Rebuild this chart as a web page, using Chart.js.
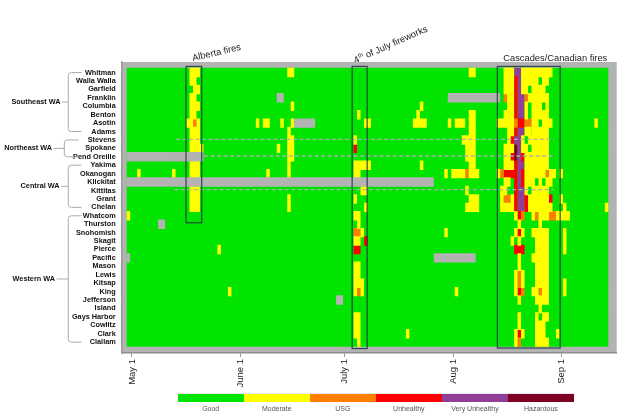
<!DOCTYPE html>
<html>
<head>
<meta charset="utf-8">
<script src="https://cdn.jsdelivr.net/npm/chart.js@4.4.1/dist/chart.umd.min.js"></script>
<style>
  html, body { margin: 0; padding: 0; background: #fff; }
  #wrap { position: relative; width: 639px; height: 418px; }
  #legend { position: absolute; left: 177.7px; top: 393.3px; display: flex;
            font-family: "Liberation Sans", Arial, sans-serif; }
  #legend .item { width: 66.05px; text-align: center; font-size: 7px; color: #555; }
  #legend .swatch { height: 8.7px; box-shadow: inset 0 1px 0 #e6e6e6; }
  #legend .lbl { margin-top: 2px; line-height: 9px; }
</style>
</head>
<body>
<div id="wrap">
  <canvas id="aqiChart" width="639" height="418"></canvas>
  <div id="legend"></div>
</div>
<script>
// --- DATA ---
// day 0 = Apr 30, one column per day through Sep 14
const dayCount = 138;
const tickDays = [1, 32, 62, 93, 124];
const tickLabels = ['May 1', 'June 1', 'July 1', 'Aug 1', 'Sep 1'];

const counties = ['Whitman', 'Walla Walla', 'Garfield', 'Franklin', 'Columbia', 'Benton', 'Asotin', 'Adams',
  'Stevens', 'Spokane', 'Pend Oreille',
  'Yakima', 'Okanogan', 'Klickitat', 'Kittitas', 'Grant', 'Chelan',
  'Whatcom', 'Thurston', 'Snohomish', 'Skagit', 'Pierce', 'Pacific', 'Mason', 'Lewis', 'Kitsap', 'King',
  'Jefferson', 'Island', 'Gays Harbor', 'Cowlitz', 'Clark', 'Clallam'];

const regionNames = ['Southeast WA', 'Northeast WA', 'Central WA', 'Western WA'];
const regionFirst = [0, 8, 11, 17];
const regionLast = [7, 10, 16, 32];

const levels = ['Good', 'Moderate', 'USG', 'Unhealthy', 'Very Unhealthy', 'Hazardous'];
const levelCodes = ['G', 'M', 'U', 'R', 'V', 'H'];
const levelColors = ['#00e400', '#ffff00', '#ff7e00', '#ff0000', '#8f3f97', '#7e0023'];
const MISSING_COLOR = '#b3b3b3';

// days that were not "Good": first-last day + code (N = no data)
const readings = [
  '18-20M 46-47M 98-99M 108-110M 111-112V 113-121M',
  '18-19M 108-110M 111R 112V 113-117M 119-120M',
  '19-20M 108-110M 111R 112V 113-114M 116-119M',
  '18-19M 43-44N 92-106N 108U 109-110M 111R 112-113V 114U 115-120M',
  '18-20M 47M 84M 109-110M 111R 112-113V 114M 116-118M 120M',
  '18-19M 66M 83M 98-99M 108-110M 111R 112-113V 114M 116-120M',
  '17-18M 19U 20M 37M 39-40M 44M 47M 48-53N 68-69M 82-85M 92M 94-96M 98-99M 106-110M 111U 112-113R 114-115U 116-117M 119-121M 134M',
  '18-20M 46M 98-99M 109-110M 111R 112-113V 114-115M 116-120M',
  '18-20M 46-47M 65M 96-99M 109M 110R 111-112V 113M 115-120M',
  '18-21M 43M 46-47M 65R 97-99M 108-110M 111H 112V 113-114M 116-120M',
  '0-21N 46-47M 97-99M 108-109M 110R 111H 112V 113R 114M 115-120M',
  '18-20M 46M 65-69M 84M 98-99M 108-110M 111R 112-113V 114M 115-120M',
  '3M 13M 18-20M 40M 46M 65-66M 91M 93-96M 97U 98-100M 106M 107U 108-111R 112V 113R 114-119M 120U 121-122M 124M',
  '0-87N 108-109M 111R 112V 113R 114-116M 118M 120-121M',
  '18-20M 67-68M 97M 107-108M 111R 112-113V 114M 116-120M',
  '18-20M 46M 65M 98-100M 107M 108-109U 110M 111R 112-113V 114R 115-120M 121R 124M',
  '18-20M 46M 68M 97-100M 107-110M 111R 112-113V 114R 115-121M 125M 137M',
  '0M 65-66M 111M 112R 113U 116M 117U 118-120M 121-122U 123-126M',
  '9-10N 66M 112M 118M',
  '65-66U 67M 91M 111M 112R 113M 116-120M 125M',
  '65-66M 68R 110M 112M 117-120M 125M',
  '26M 65-66R 111-113R 117-120M 125M',
  '0N 88-99N 112M 116-120M',
  '65-66M 112M 117-120M',
  '65-66M 111M 112U 113M 117-120M',
  '65-67M 111M 112U 113M 117-120M 125M',
  '29M 65M 66U 67M 94M 111M 112R 113U 116-117M 118U 119-120M 125M',
  '60-61N 112M 117-120M',
  '118M',
  '65-66M 112M 117M 119-120M',
  '65-66M 112M 117-119M',
  '65-66M 80M 111M 112R 113M 117-119M 123M',
  '66M 111M 112U 117-120M'
];

// event boxes (day range, rows)
const eventNames = ['Alberta fires', '4th of July fireworks', 'Cascades/Canadian fires'];
const eventFrom = [17.0, 64.6, 106.2];
const eventTo = [21.5, 68.9, 124.2];
const eventLastRow = [17.83, 32.765, 32.7];

// dashed guide lines
const guideRows = [7.93, 9.9, 13.9];
const guideFrom = [14.1, 12.9, 13.6];
const guideTo = [122.4, 122.0, 122.4];

// --- BUILD DATASETS ---
function parseRuns(str){
  return str.trim().split(/\s+/).map(tok => {
    const m = tok.match(/^(\d+)(?:-(\d+))?([A-Z])$/);
    const a = +m[1], b = m[2] ? +m[2] : a;
    return { from: a, to: b + 1, code: m[3] };
  });
}
const runsByRow = readings.map(parseRuns);

// lower "order" is painted on top, so the Good base row sits underneath.
// bars a touch taller than a row so neighbouring rows overlap (no seams)
const barOpts = { grouped: false, barPercentage: 1.12, categoryPercentage: 1, borderWidth: 0, inflateAmount: 0 };
const datasets = [];
datasets.push(Object.assign({
  label: levels[0],
  order: 5,
  data: counties.map((c, i) => ({ x: [0, dayCount], y: i })),
  backgroundColor: levelColors[0]
}, barOpts));

const overlayCodes = ['N'].concat(levelCodes.slice(1));
overlayCodes.forEach(code => {
  const data = [];
  runsByRow.forEach((runs, row) => runs.forEach(r => {
    if (r.code === code) data.push({ x: [r.from, r.to], y: row });
  }));
  const li = levelCodes.indexOf(code);
  datasets.push(Object.assign({
    label: li >= 0 ? levels[li] : 'No data',
    order: 1,
    data,
    backgroundColor: li >= 0 ? levelColors[li] : MISSING_COLOR
  }, barOpts));
});

const FONT = '"Liberation Sans", Arial, sans-serif';

// --- PLUGINS ---
const panelPlugin = {
  id: 'panel',
  beforeDraw(chart){
    const { ctx, chartArea: a } = chart;
    ctx.save();
    ctx.fillStyle = MISSING_COLOR;
    ctx.fillRect(a.left, a.top, a.right - a.left, a.bottom - a.top);
    ctx.restore();
  }
};

const overlayPlugin = {
  id: 'overlay',
  afterDatasetsDraw(chart){
    const { ctx, scales: { x, y } } = chart;
    ctx.save();

    // dashed guides
    ctx.strokeStyle = 'rgba(175,175,175,0.95)';
    ctx.lineWidth = 1.4;
    ctx.setLineDash([4, 2.5]);
    guideRows.forEach((r, i) => {
      const py = y.getPixelForValue(r);
      ctx.beginPath();
      ctx.moveTo(x.getPixelForValue(guideFrom[i]), py);
      ctx.lineTo(x.getPixelForValue(guideTo[i]), py);
      ctx.stroke();
    });
    ctx.setLineDash([]);

    // event boxes
    ctx.strokeStyle = 'rgba(30,45,70,0.85)';
    ctx.lineWidth = 1.2;
    eventNames.forEach((n, i) => {
      const x0 = x.getPixelForValue(eventFrom[i]), x1 = x.getPixelForValue(eventTo[i]);
      const y0 = y.getPixelForValue(y.min), y1 = y.getPixelForValue(eventLastRow[i]);
      ctx.strokeRect(x0, y0, x1 - x0, y1 - y0);
    });

    // event labels
    ctx.fillStyle = '#1a1a1a';
    ctx.textBaseline = 'alphabetic';
    ctx.font = '9.3px ' + FONT;
    const top = y.getPixelForValue(y.min);

    // Alberta
    ctx.save();
    ctx.translate(x.getPixelForValue(eventFrom[0]) + 7, top - 5.5);
    ctx.rotate(-13 * Math.PI / 180);
    ctx.fillText(eventNames[0], 0, 0);
    ctx.restore();

    // 4th of July (superscript "th")
    ctx.save();
    ctx.translate(x.getPixelForValue(eventFrom[1]) + 3.2, top - 3);
    ctx.rotate(-24 * Math.PI / 180);
    ctx.fillText('4', 0, 0);
    let w = ctx.measureText('4').width;
    ctx.font = '6px ' + FONT;
    ctx.fillText('th', w + 0.3, -3.6);
    w += ctx.measureText('th').width + 0.3;
    ctx.font = '9.3px ' + FONT;
    ctx.fillText(' of July fireworks', w, 0);
    ctx.restore();

    // Cascades
    ctx.fillText(eventNames[2], x.getPixelForValue(eventFrom[2]) + 6, top - 5.5);

    ctx.restore();
  },
  afterDraw(chart){
    const { ctx, scales: { y } } = chart;
    const braceX = [68.3, 64.3, 68.3, 68.3];
    const armEnd = [81.5, 78.3, 81.5, 81.5];
    const labelRight = [60.5, 52, 59.5, 55];
    ctx.save();
    ctx.strokeStyle = '#ababab';
    ctx.lineWidth = 1;
    ctx.fillStyle = '#111';
    ctx.font = 'bold 7.3px ' + FONT;
    ctx.textAlign = 'right';
    ctx.textBaseline = 'middle';
    regionNames.forEach((name, i) => {
      const y0 = y.getPixelForValue(regionFirst[i]);
      const y1 = y.getPixelForValue(regionLast[i]);
      const ym = (y0 + y1) / 2;
      const bx = braceX[i], r = 3;
      ctx.beginPath();
      ctx.moveTo(armEnd[i], y0);
      ctx.lineTo(bx + r, y0);
      ctx.quadraticCurveTo(bx, y0, bx, y0 + r);
      ctx.lineTo(bx, y1 - r);
      ctx.quadraticCurveTo(bx, y1, bx + r, y1);
      ctx.lineTo(armEnd[i], y1);
      ctx.moveTo(bx, ym);
      ctx.lineTo(labelRight[i] + 1.5, ym);
      ctx.stroke();
      ctx.fillText(name, labelRight[i], ym);
    });
    ctx.restore();
  }
};

// --- CHART ---
Chart.defaults.font.family = FONT;
new Chart(document.getElementById('aqiChart'), {
  type: 'bar',
  data: { datasets },
  options: {
    indexAxis: 'y',
    responsive: false,
    animation: false,
    layout: { padding: { top: 62, right: 22.3, left: 0, bottom: 0 } },
    plugins: { legend: { display: false }, tooltip: { enabled: false } },
    scales: {
      x: {
        type: 'linear', position: 'bottom', min: -1.43, max: 140.4,
        afterBuildTicks: s => { s.ticks = tickDays.map(d => ({ value: d + 0.5 })); },
        afterFit: s => { s.height = 65; },
        ticks: { autoSkip: false, minRotation: 90, maxRotation: 90, padding: 2, color: '#222',
                 font: { size: 9.5 }, callback: (v, i) => tickLabels[i] },
        grid: { drawOnChartArea: false, drawTicks: true, tickLength: 4, color: '#9a9a9a' },
        border: { display: true, color: '#8c8c8c', width: 1.5 }
      },
      y: {
        type: 'linear', reverse: true, min: -0.73, max: 32.765,
        afterBuildTicks: s => { s.ticks = counties.map((c, i) => ({ value: i })); },
        afterFit: s => { s.width = 121.7; },
        ticks: { autoSkip: false, padding: 6, color: '#111',
                 font: { size: 7.3, weight: 'bold' }, callback: v => counties[v] },
        grid: { display: false, drawTicks: false },
        border: { display: true, color: '#9a9a9a', width: 1.5 }
      }
    }
  },
  plugins: [panelPlugin, overlayPlugin]
});

// --- LEGEND ---
const legendEl = document.getElementById('legend');
levels.forEach((lv, i) => {
  const item = document.createElement('div');
  item.className = 'item';
  item.innerHTML = '<div class="swatch" style="background:' + levelColors[i] + '"></div><div class="lbl">' + lv + '</div>';
  legendEl.appendChild(item);
});
</script>
</body>
</html>
